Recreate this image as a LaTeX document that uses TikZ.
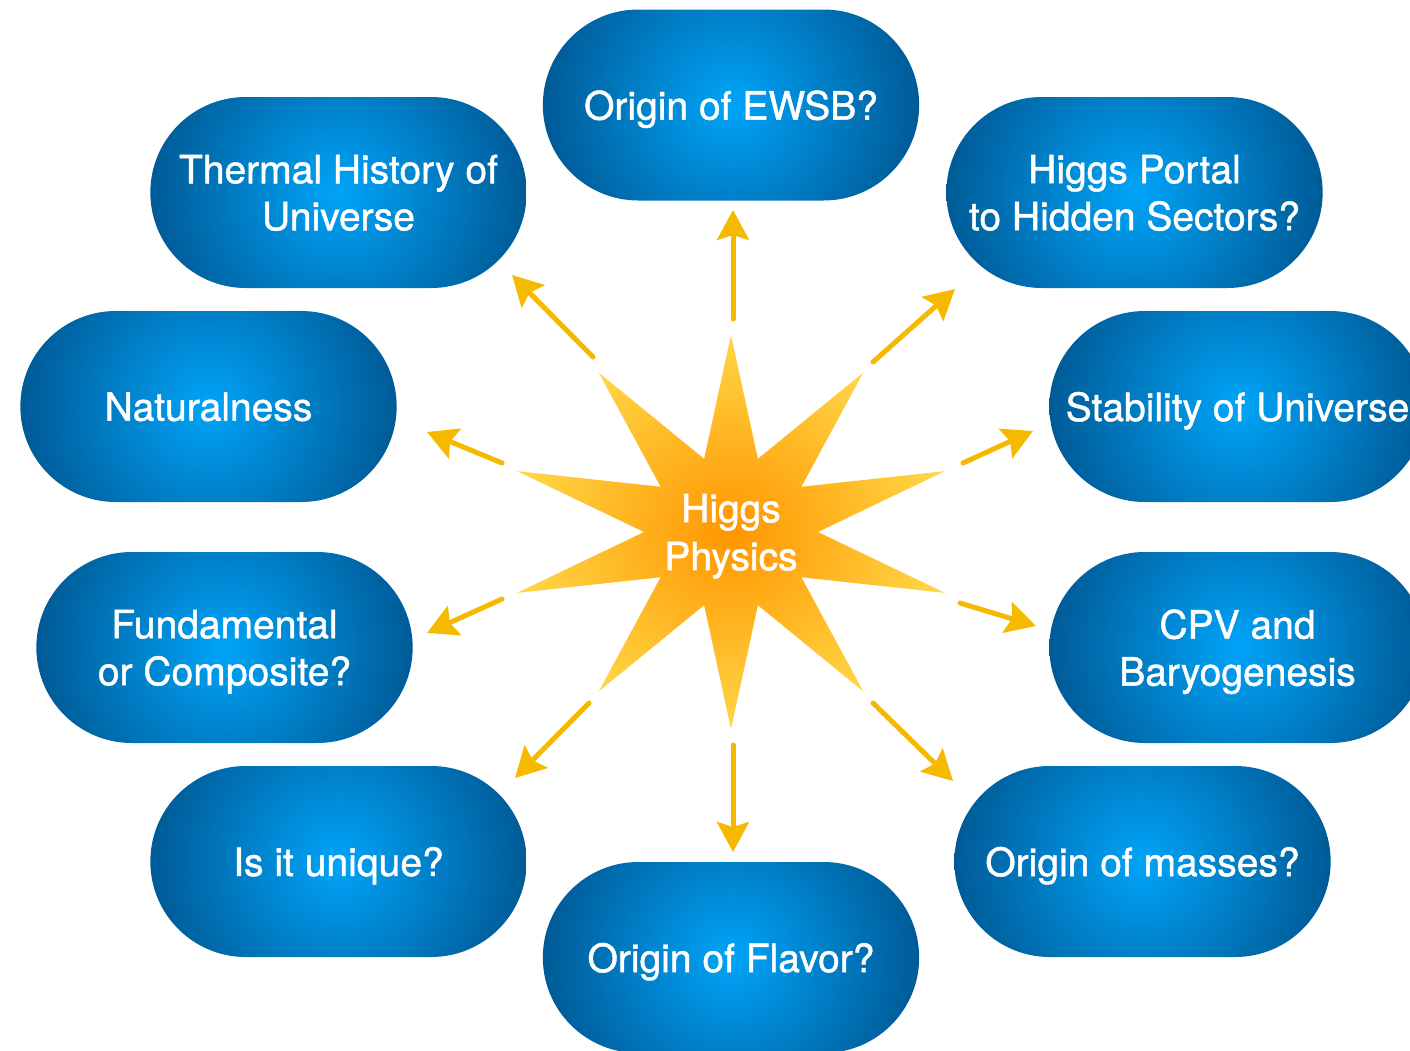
\documentclass[tikz,border=0pt]{standalone}
\usepackage{fontspec}
\setmainfont{TeX Gyre Heros}
\newfontfamily\medfont{TeX Gyre Heros}[FakeBold=1.2]
\usetikzlibrary{shapes.misc,arrows.meta}
\definecolor{pillin}{RGB}{0,164,248}
\definecolor{pillout}{RGB}{0,84,142}
\definecolor{starin}{RGB}{255,150,0}
\definecolor{starout}{RGB}{255,214,70}
\definecolor{arrowc}{RGB}{245,185,0}
\begin{document}
\begin{tikzpicture}[x=1pt,y=-1pt,
  pill/.style={rounded rectangle, minimum width=383pt, minimum height=191pt,
    path picture={\shade[inner color=pillin, outer color=pillout]
      (path picture bounding box.center) circle (205pt);},
    text=white, align=center, text depth=0pt,
    font=\medfont\fontsize{39}{47}\selectfont},
  arr/.style={draw=arrowc, line width=5pt, line cap=round,
    -{Stealth[length=30pt,width=32pt,inset=5pt]}},
  lbl/.style={text=white, align=center, text depth=0pt,
    font=\medfont\fontsize{39}{48}\selectfont}]
\useasboundingbox (0,0) rectangle (1410,1050);
\clip (0,0) rectangle (1410,1050);

% pills
\node[pill] (ewsb)    at (731,105)    {Origin of EWSB?};
\node[pill] (thermal) at (338.5,192.5) {Thermal History of\\Universe};
\node[pill] (portal)  at (1134.5,192.5) {Higgs Portal\\to Hidden Sectors?};
\node[pill] (natural) at (208.5,406.5) {Naturalness};
\node[pill] (stab)    at (1237.5,406.5) {Stability of Universe};
\node[pill] (fund)    at (224.5,647.5) {Fundamental\\or Composite?};
\node[pill] (cpv)     at (1237.5,647.5) {CPV and\\Baryogenesis};
\node[pill] (unique)  at (338.5,861.5) {Is it unique?};
\node[pill] (masses)  at (1142.5,861.5) {Origin of masses?};
\node[pill] (flavor)  at (731,957.5)  {Origin of Flavor?};

% star
\begin{scope}[shift={(731,532)}]
\shade[inner color=starin, outer color=starout] (87,0)
  \foreach \a in {18,54,...,342} {
    -- ({225*cos(\a)},{197*sin(\a)}) -- ({87*cos(\a+18)},{77*sin(\a+18)})
  } -- cycle;
\end{scope}
\node[lbl] (higgs) at (731,532) {Higgs\\Physics};

% arrow end points
\coordinate (t1) at (733,319);  \coordinate (h1) at (733,210);
\coordinate (t2) at (593,357);  \coordinate (h2) at (512,275);
\coordinate (t3) at (873,362);  \coordinate (h3) at (955,289);
\coordinate (t4) at (502,463);  \coordinate (h4) at (427,432);
\coordinate (t5) at (963,463);  \coordinate (h5) at (1033,431);
\coordinate (t6) at (502,599);  \coordinate (h6) at (427,633);
\coordinate (t7) at (960,603);  \coordinate (h7) at (1036,626);
\coordinate (t8) at (589,703);  \coordinate (h8) at (515,778);
\coordinate (t9) at (873,703);  \coordinate (h9) at (953,781);
\coordinate (t10) at (733,745); \coordinate (h10) at (733,852);

\foreach \i in {1,...,10} { \draw[arr] (t\i) -- (h\i); }
\end{tikzpicture}
\end{document}
